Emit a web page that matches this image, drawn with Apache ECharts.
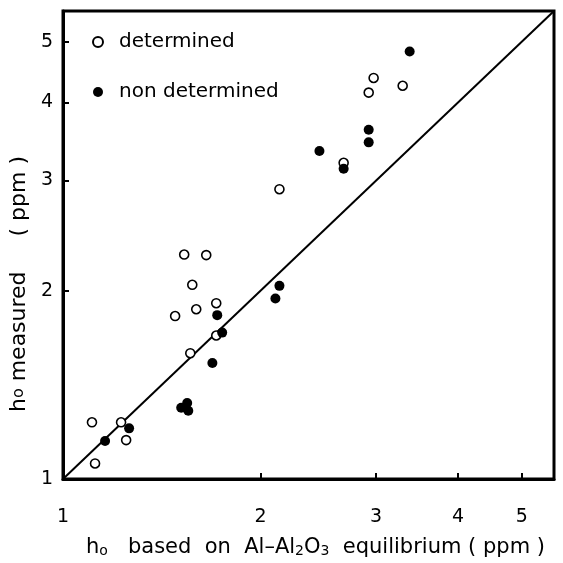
<!DOCTYPE html>
<html>
<head>
<meta charset="utf-8">
<script src="https://cdn.jsdelivr.net/npm/echarts@6/dist/echarts.min.js"></script>
<style>
  html, body { margin: 0; padding: 0; background: #fff; }
  #chart { width: 563px; height: 563px; }
</style>
</head>
<body>
<div id="chart"></div>
<script>
// axis ticks (ppm)
const tickValues = [1, 2, 3, 4, 5];
const axisMin = 1;
const axisMax = 5.6;

// determined (open circles): [based on Al-Al2O3 equilibrium, measured]
const determinedX = [1.107, 1.226, 1.248, 1.119, 1.482, 1.53, 1.653, 1.574, 1.596, 1.712, 1.563, 1.712, 2.137, 2.677, 2.923, 2.974, 3.293];
const determinedY = [1.232, 1.232, 1.154, 1.059, 1.822, 2.285, 2.28, 2.044, 1.868, 1.91, 1.589, 1.696, 2.906, 3.203, 4.147, 4.377, 4.253];

// non determined (filled circles)
const nonDeterminedX = [3.375, 2.923, 2.923, 2.459, 2.677, 2.137, 2.107, 1.718, 1.748, 1.689, 1.546, 1.514, 1.552, 1.261, 1.159];
const nonDeterminedY = [4.825, 3.618, 3.453, 3.344, 3.134, 2.036, 1.944, 1.828, 1.714, 1.533, 1.323, 1.3, 1.286, 1.205, 1.15];

// y = x reference line
const equalityLine = [axisMin, axisMax];

const pairs = (xs, ys) => xs.map((x, i) => [x, ys[i]]);

const chart = echarts.init(document.getElementById('chart'));
const font = 'DejaVu Sans';

const option = {
  backgroundColor: '#fff',
  animation: false,
  textStyle: { fontFamily: font, color: '#000' },
  grid: {
    left: 61,
    right: 9,
    top: 11,
    bottom: 73,
    show: true,
    borderColor: '#000',
    borderWidth: 3,
  },
  legend: {
    orient: 'vertical',
    left: 87,
    top: 27,
    itemWidth: 10,
    itemHeight: 10,
    itemGap: 30,
    textStyle: { fontFamily: font, fontSize: 20, color: '#000', padding: [0, 0, 0, 11] },
    data: ['determined', 'non determined'],
  },
  xAxis: {
    type: 'log',
    min: axisMin,
    max: axisMax,
    axisLine: { show: true, lineStyle: { color: '#000', width: 3 } },
    axisTick: { inside: true, length: 6, lineStyle: { color: '#000', width: 2 }, customValues: tickValues },
    axisLabel: { customValues: tickValues, margin: 29, fontSize: 19, color: '#000', fontFamily: font },
    splitLine: { show: false },
    minorTick: { show: false },
    name: '{b|h}{s|o}   based  on  Al\u2013Al{s|2}O{s|3}  equilibrium ( ppm )',
    nameLocation: 'middle',
    nameGap: 58,
    nameTextStyle: {
      rich: {
        b: { fontSize: 21, fontFamily: font, color: '#000' },
        s: { fontSize: 14, fontFamily: font, color: '#000', verticalAlign: 'bottom', padding: [6, 0, 0, 0] },
      },
      fontSize: 21,
      fontFamily: font,
      color: '#000',
      padding: [0, 0, 0, 14],
    },
  },
  yAxis: {
    type: 'log',
    min: axisMin,
    max: axisMax,
    axisLine: { show: true, lineStyle: { color: '#000', width: 3 } },
    axisTick: { inside: true, length: 6, lineStyle: { color: '#000', width: 2 }, customValues: tickValues },
    axisLabel: { customValues: tickValues, margin: 10, fontSize: 19, color: '#000', fontFamily: font },
    splitLine: { show: false },
    minorTick: { show: false },
    name: '{b|h}{s|o} measured     ( ppm )',
    nameLocation: 'middle',
    nameGap: 33,
    nameTextStyle: {
      rich: {
        b: { fontSize: 22, fontFamily: font, color: '#000' },
        s: { fontSize: 16, fontFamily: font, color: '#000' },
      },
      fontSize: 22,
      fontFamily: font,
      color: '#000',
      padding: [0, 78, 0, 0],
    },
  },
  series: [
    {
      type: 'line',
      data: pairs(equalityLine, equalityLine),
      symbol: 'none',
      lineStyle: { color: '#000', width: 2 },
      z: 1,
      silent: true,
    },
    {
      name: 'determined',
      type: 'scatter',
      data: pairs(determinedX, determinedY),
      symbol: 'circle',
      symbolSize: 9,
      itemStyle: { color: '#fff', borderColor: '#000', borderWidth: 1.6, opacity: 1 },
      z: 3,
    },
    {
      name: 'non determined',
      type: 'scatter',
      data: pairs(nonDeterminedX, nonDeterminedY),
      symbol: 'circle',
      symbolSize: 10,
      itemStyle: { color: '#000', opacity: 1 },
      z: 3,
    },
  ],
};

chart.setOption(option);
</script>
</body>
</html>
